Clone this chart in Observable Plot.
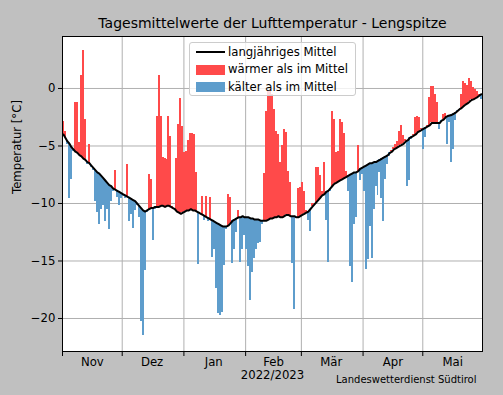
<!DOCTYPE html>
<html>
<head>
<meta charset="utf-8">
<script src="https://cdn.jsdelivr.net/npm/d3@7"></script>
<script src="https://cdn.jsdelivr.net/npm/@observablehq/plot@0.6"></script>
<style>
  html, body { margin: 0; padding: 0; background: #c0c0c0; }
  #wrap { position: relative; width: 503px; height: 395px; font-family: "DejaVu Sans", sans-serif; }
  #legend { position: absolute; left: 189px; top: 42px; width: 167px; height: 54px;
    background: rgba(255,255,255,0.8); border: 1px solid #cccccc; border-radius: 3px; box-sizing: border-box; }
  .sw { position: absolute; left: 6px; width: 29px; }
  .lt { position: absolute; left: 38px; font-size: 11.7px; line-height: 14px; color: #000; white-space: nowrap; }
</style>
</head>
<body>
<div id="wrap"></div>
<script>
// ---- data ----
const startDatum = "2022-11-01";
// long-term mean (°C), one value per day from 1 Nov 2022
const mittel = [
  -4.0, -4.3, -4.6, -4.8, -5.1, -5.3, -5.5, -5.6, -5.8, -5.9,
  -6.1, -6.2, -6.4, -6.5, -6.7, -6.9, -7.1, -7.3, -7.4, -7.6,
  -7.8, -8.0, -8.2, -8.4, -8.5, -8.7, -8.8, -8.9, -9.0, -9.1,
  -9.2, -9.3, -9.4, -9.5, -9.6, -9.7, -9.8, -10.0, -10.2, -10.4,
  -10.6, -10.7, -10.6, -10.5, -10.4, -10.4, -10.3, -10.3, -10.3, -10.2,
  -10.2, -10.3, -10.2, -10.2, -10.3, -10.4, -10.5, -10.7, -10.8, -10.9,
  -10.8, -10.7, -10.6, -10.6, -10.5, -10.6, -10.6, -10.7, -10.8, -10.9,
  -11.0, -11.1, -11.2, -11.3, -11.4, -11.5, -11.6, -11.7, -11.8, -11.9,
  -12.0, -12.0, -12.0, -11.9, -11.7, -11.5, -11.4, -11.3, -11.2, -11.2,
  -11.1, -11.2, -11.2, -11.2, -11.3, -11.3, -11.4, -11.4, -11.4, -11.5,
  -11.5, -11.5, -11.5, -11.4, -11.3, -11.3, -11.2, -11.2, -11.1, -11.2,
  -11.2, -11.1, -11.0, -11.0, -11.1, -11.1, -11.1, -11.2, -11.2, -11.1,
  -11.0, -10.9, -10.8, -10.7, -10.5, -10.3, -10.1, -9.9, -9.7, -9.5,
  -9.3, -9.2, -9.0, -8.9, -8.7, -8.5, -8.3, -8.2, -8.1, -8.0,
  -7.9, -7.8, -7.7, -7.6, -7.5, -7.4, -7.3, -7.3, -7.2, -7.0,
  -6.9, -6.8, -6.7, -6.6, -6.5, -6.5, -6.4, -6.4, -6.3, -6.2,
  -6.1, -6.0, -5.9, -5.8, -5.6, -5.5, -5.3, -5.2, -5.1, -5.0,
  -4.9, -4.8, -4.6, -4.5, -4.3, -4.2, -4.1, -4.0, -3.8, -3.7,
  -3.6, -3.5, -3.4, -3.3, -3.2, -3.0, -3.0, -3.0, -3.0, -3.0,
  -2.8, -2.7, -2.5, -2.4, -2.35, -2.3, -2.2, -2.1, -1.95, -1.8,
  -1.7, -1.55, -1.4, -1.3, -1.15, -1.0, -0.95, -0.85, -0.75, -0.6, -0.5
];
// daily mean temperature 2022/2023 (°C)
const tagesmittel = [
  -2.9, -3.7, -4.9, -9.6, -7.9, -5.5, -1.2, -1.2, -4.7, 1.1,
  3.3, -2.7, -6.6, -4.9, -6.9, -7.1, -9.8, -10.8, -11.8, -10.5,
  -10.2, -11.6, -10.5, -12.3, -9.8, -9.0, -7.1, -9.5, -10.2, -9.6,
  -9.4, -9.6, -6.6, -11.6, -11.0, -12.2, -10.6, -10.2, -11.2, -20.3,
  -21.5, -15.8, -10.8, -7.5, -7.9, -13.2, -10.5, -2.4, 1.1, -2.4,
  -6.0, -6.1, -6.2, -2.4, -4.2, -10.3, -10.4, -6.1, -3.1, -0.9,
  -3.3, -5.6, -5.5, -4.5, -3.9, -3.9, -4.0, -7.3, -15.3, -10.9,
  -9.4, -11.5, -9.4, -11.6, -9.5, -14.7, -14.0, -17.4, -19.6, -19.7,
  -19.5, -15.4, -12.3, -9.2, -9.5, -15.2, -14.0, -12.5, -10.6, -15.1,
  -14.0, -12.8, -14.0, -15.5, -18.4, -16.0, -14.8, -14.0, -13.5, -13.4,
  -11.8, -7.4, -2.0, -0.3, -0.2, -0.5, -1.8, -3.7, -4.0, -6.4,
  -5.0, -3.6, -3.8, -7.2, -8.2, -15.2, -19.2, -11.3, -8.7, -8.6,
  -8.2, -9.0, -10.6, -11.5, -12.4, -10.0, -10.0, -6.9, -6.9, -7.6,
  -9.0, -6.4, -11.5, -15.1, -9.0, -2.0, -2.7, -5.6, -5.5, -2.7,
  -3.0, -3.9, -7.2, -9.0, -15.5, -16.9, -11.8, -11.2, -5.0, -8.0,
  -7.5, -9.0, -15.7, -14.9, -12.0, -14.8, -10.5, -8.5, -9.3, -7.3,
  -9.6, -11.6, -7.9, -6.6, -5.9, -5.4, -5.1, -4.9, -4.6, -3.7,
  -3.2, -4.1, -4.4, -8.5, -8.0, -4.4, -4.0, -2.5, -2.4, -2.5,
  -3.5, -5.3, -4.3, -3.2, -0.8, 0.2, 0.2, -0.5, -1.2, -3.6,
  -3.0, -2.3, -2.2, -4.9, -3.0, -6.4, -5.3, -2.8, -2.0, -1.9,
  -0.5, 0.6, 0.4, 0.3, 0.9, 0.6, 0.1, -0.1, -0.3, -0.5, -1.0
];
const monate = ["Nov", "Dez", "Jan", "Feb", "Mär", "Apr", "Mai"];
const monatsAnfang = ["2022-11-01", "2022-12-01", "2023-01-01", "2023-02-01", "2023-03-01", "2023-04-01", "2023-05-01"];
const monatsMitte = ["2022-11-16", "2022-12-16", "2023-01-16", "2023-02-15", "2023-03-16", "2023-04-16", "2023-05-16"];
const yTicks = [-20, -15, -10, -5, 0];
const titel = "Tagesmittelwerte der Lufttemperatur - Lengspitze";
const yLabel = "Temperatur [°C]";
const xLabel = "2022/2023";
const quelle = "Landeswetterdienst Südtirol";
const legendeTexte = ["langjähriges Mittel", "wärmer als im Mittel", "kälter als im Mittel"];

// ---- build table ----
const DAY = 864e5;
const t0 = Date.parse(startDatum + "T00:00:00Z");
const rows = mittel.map((m, i) => ({
  x1: new Date(t0 + i * DAY),
  x2: new Date(t0 + (i + 1) * DAY),
  xm: new Date(t0 + (i + 0.5) * DAY),
  m, t: tagesmittel[i]
}));
const asDate = s => new Date(s + "T00:00:00Z");
const starts = monatsAnfang.map(asDate);
const mids = monatsMitte.map(asDate);

const ROT = "#ff4a4a";
const BLAU = "#5e9dcc";
const GRID = "#b0b0b0";

const chart = Plot.plot({
  width: 503, height: 395,
  marginTop: 36, marginRight: 21, marginBottom: 44, marginLeft: 62,
  style: { background: "#c0c0c0", fontFamily: "DejaVu Sans", fontSize: "11.7px", color: "black", overflow: "visible" },
  x: { type: "utc", domain: [asDate("2022-11-01"), asDate("2023-05-31")] },
  y: { domain: [-22.87, 4.52] },
  marks: [
    Plot.frame({ fill: "white" }),
    Plot.gridX(starts, { stroke: GRID, strokeOpacity: 1, strokeWidth: 1 }),
    Plot.gridY(yTicks, { stroke: GRID, strokeOpacity: 1, strokeWidth: 1 }),
    Plot.rectY(rows.filter(d => d.t >= d.m), { x1: "x1", x2: "x2", y1: "m", y2: "t", fill: ROT, shapeRendering: "crispEdges" }),
    Plot.rectY(rows.filter(d => d.t < d.m), { x1: "x1", x2: "x2", y1: "m", y2: "t", fill: BLAU, shapeRendering: "crispEdges" }),
    Plot.line(rows, { x: "xm", y: "m", stroke: "black", strokeWidth: 2 }),
    Plot.frame({ stroke: "black", strokeWidth: 1 }),
    Plot.axisY(yTicks, { tickSize: 4, tickPadding: 3, label: null, fontSize: 11.7, tickFormat: d => d === 0 ? "0" : "\u2212" + Math.abs(d) }),
    Plot.axisX(starts, { tickSize: 5, tickFormat: () => "", label: null }),
    Plot.axisX(mids, { tickSize: 0, tickPadding: 6, label: null, fontSize: 11.7,
      tickFormat: d => monate[mids.findIndex(m => +m === +d)] }),
    Plot.text([titel], { text: d => d, frameAnchor: "top", dy: -18, fontSize: 14 }),
    Plot.text([yLabel], { text: d => d, frameAnchor: "left", dx: -45, rotate: -90, fontSize: 11.7 }),
    Plot.text([xLabel], { text: d => d, frameAnchor: "bottom", dy: 27, fontSize: 11.7 }),
    Plot.text([quelle], { text: d => d, frameAnchor: "bottom-right", dx: -6, dy: 31, textAnchor: "end", fontSize: 10 })
  ]
});

const wrap = document.getElementById("wrap");
wrap.appendChild(chart);

// legend
const leg = document.createElement("div");
leg.id = "legend";
const items = [
  { kind: "line", color: "black" },
  { kind: "patch", color: ROT },
  { kind: "patch", color: BLAU }
];
items.forEach((it, i) => {
  const cy = 9 + i * 17.5;
  const sw = document.createElement("div");
  sw.className = "sw";
  if (it.kind === "line") {
    sw.style.top = (cy - 1) + "px"; sw.style.height = "2px"; sw.style.background = it.color;
  } else {
    sw.style.top = (cy - 5) + "px"; sw.style.height = "10px"; sw.style.background = it.color;
  }
  leg.appendChild(sw);
  const tx = document.createElement("div");
  tx.className = "lt";
  tx.style.top = (cy - 7.5) + "px";
  tx.textContent = legendeTexte[i];
  leg.appendChild(tx);
});
wrap.appendChild(leg);
</script>
</body>
</html>
